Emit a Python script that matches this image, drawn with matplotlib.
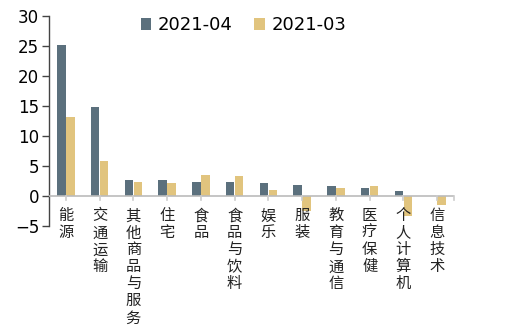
import matplotlib
matplotlib.use("Agg")
import matplotlib.pyplot as plt
import numpy as np

categories = ["能源", "交通运输", "其他商品与服务", "住宅", "食品", "食品与饮料",
              "娱乐", "服装", "教育与通信", "医疗保健", "个人计算机", "信息技术"]
apr_2021 = [25.1, 14.9, 2.7, 2.6, 2.4, 2.3, 2.1, 1.8, 1.7, 1.4, 0.8, 0.0]
mar_2021 = [13.2, 5.8, 2.4, 2.1, 3.5, 3.4, 1.0, -2.5, 1.4, 1.7, -3.3, -1.5]
series_names = ["2021-04", "2021-03"]
y_ticks = [-5, 0, 5, 10, 15, 20, 25, 30]

c_dark = "#5b707d"
c_gold = "#e1c47e"

plt.rcParams["font.family"] = ["DejaVu Sans"]

fig = plt.figure(figsize=(5.09, 3.25), dpi=100)
ax = fig.add_axes([49 / 509, 1 - 226 / 325, 405 / 509, 210 / 325])

x = np.arange(len(categories))
w = 0.25
ax.bar(x - 0.135, apr_2021, width=w, color=c_dark, label=series_names[0])
ax.bar(x + 0.135, mar_2021, width=w, color=c_gold, label=series_names[1])

ax.set_xlim(-0.5, len(categories) - 0.5)
ax.set_ylim(-5, 30)
ax.set_yticks(y_ticks)
ax.tick_params(axis="y", labelsize=12, length=5, width=1, color="#444444", pad=2)

for s in ["top", "right", "bottom"]:
    ax.spines[s].set_visible(False)
ax.spines["left"].set_color("#444444")
ax.spines["left"].set_linewidth(1)

# zero line acting as the category axis
ax.axhline(0, color="#bbbbbb", lw=1.2, zorder=3)
ax.set_xticks([])
for xi in list(x) + [len(categories) - 0.5]:
    ax.plot([xi, xi], [0, -0.6], color="#cccccc", lw=1.2, clip_on=False, zorder=3)

# vertical stacked category labels
for xi, name in zip(x, categories):
    ax.text(xi, -1.9, "\n".join(name), ha="center", va="top",
            fontsize=11, linespacing=1.0, color="#222222",
            family=["Noto Sans CJK SC", "DejaVu Sans"])

ax.legend(loc="upper center", bbox_to_anchor=(0.48, 1.075), ncol=2, frameon=False,
          fontsize=13, handlelength=0.6, handleheight=0.6, handletextpad=0.35,
          columnspacing=1.2)

fig.savefig("out.png", dpi=100)
